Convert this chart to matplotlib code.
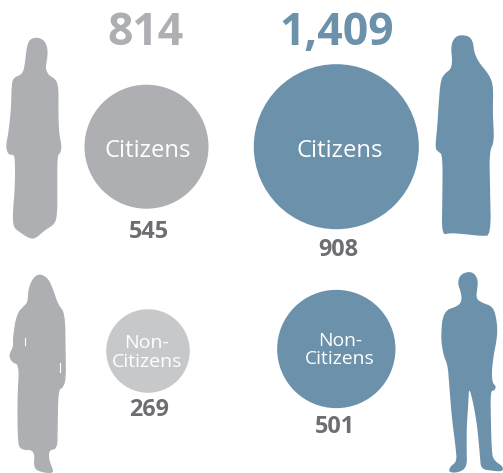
import matplotlib
matplotlib.use('Agg')
import matplotlib.pyplot as plt
from matplotlib.patches import Circle, Polygon
import numpy as np

plt.rcParams['font.family'] = ['Open Sans', 'DejaVu Sans']

totals = ['814', '1,409']
labels = ['Citizens', 'Citizens', 'Non-\nCitizens', 'Non-\nCitizens']
values = [545, 908, 269, 501]

GRAY = '#adafb2'
LIGHT = '#c7c8ca'
BLUE = '#6c91ab'
DARK = '#6d6e71'

# silhouettes, traced in 3x zoom pixels, with their offsets
woman1 = [(110,113),(122,115),(135,125),(141,140),(143,155),(142,172),(139,190),(137,205),(145,225),(168,238),(176,265),(175,330),(177,400),
          (185,436),(182,458),(172,466),(172,560),(172,640),(165,672),(135,690),(105,717),(85,714),(60,697),
          (40,682),(38,640),(45,560),(45,470),(38,464),(25,464),(17,440),(25,400),(33,330),(35,250),(42,232),
          (68,222),(75,190),(79,150),(85,125),(96,115)]
woman2 = [(637,105),(660,110),(670,130),(672,155),(685,185),(710,215),(725,240),(730,270),(728,340),(733,425),
          (718,455),(720,560),(723,706),(695,708),(640,702),(600,699),(575,705),(577,600),(578,465),(565,455),
          (555,445),(562,380),(566,310),(572,240),(585,220),(602,208),(607,185),(603,145),(608,122),(620,108)]
woman3 = [(120,71),(145,85),(160,120),(175,165),(195,188),(197,300),(198,390),(188,414),(175,420),(173,540),
          (172,597),(147,600),(147,630),(160,660),(157,670),(125,667),(100,655),(105,600),(60,600),(53,570),
          (52,440),(58,345),(35,337),(26,315),(40,290),(38,265),(50,190),(75,165),(83,155),(85,115),(100,82)]
man = [(653,65),(672,69),(684,90),(682,115),(678,145),(695,158),(730,170),(741,215),(742,260),(730,320),
       (725,370),(728,400),(738,408),(734,422),(722,422),(722,490),(725,600),(730,630),(760,650),(757,665),
       (725,662),(693,657),(690,620),(682,530),(670,460),(657,410),(655,460),(650,530),(650,600),(651,652),
       (625,668),(596,667),(600,650),(620,635),(618,600),(605,500),(597,395),(593,345),(580,315),(572,260),
       (580,183),(625,168),(636,150),(632,125),(623,100),(630,75)]


def person(ax, pts, dx, dy, color):
    p = np.array(pts, dtype=float) / 3 + [dx, dy]
    # round off the corners of the trace
    for k in range(2):
        q = np.roll(p, -1, axis=0)
        p = np.column_stack([0.75 * p + 0.25 * q, 0.25 * p + 0.75 * q]).reshape(-1, 2)
    ax.add_patch(Polygon(p, closed=True, fc=color, ec='none'))


fig = plt.figure(figsize=(5.03, 4.73), dpi=100)
ax = fig.add_axes([0, 0, 1, 1])
ax.set_xlim(0, 503)
ax.set_ylim(473, 0)
ax.axis('off')

person(ax, woman1, 0, 0, GRAY)
person(ax, woman2, 250, 0, BLUE)
person(ax, woman3, 0, 250, GRAY)
person(ax, man, 250, 250, BLUE)
ax.plot([25, 25], [338, 345], color='white', lw=0.8)
ax.plot([60, 60], [363, 372], color='white', lw=0.8)

# circles: size scale
cx = [146.5, 336.3, 148, 336.3]
cy = [146.7, 146.7, 351, 349]
colors = [GRAY, BLUE, LIGHT, BLUE]
for i in range(4):
    ax.add_patch(Circle((cx[i], cy[i]), 1.82 * values[i] ** 0.56, fc=colors[i], ec='none'))

ax.text(146, 45, totals[0], color=GRAY, size=32, weight='bold', ha='center', va='baseline')
ax.text(337, 45, totals[1], color=BLUE, size=32, weight='bold', ha='center', va='baseline')

num_x = [148.7, 338, 148.7, 335]
num_y = [238, 256, 415.7, 432.7]
for i in range(4):
    ax.text(num_x[i], num_y[i], str(values[i]), color=DARK, size=16.8, weight='bold', ha='center', va='baseline')

ax.text(147.5, 156.7, labels[0], color='white', size=17.2, ha='center', va='baseline')
ax.text(340, 156.7, labels[1], color='white', size=17.2, ha='center', va='baseline')
for x, y1, y2, size, lab in [(147, 348, 366.7, 14, labels[2]), (340, 346, 364, 13.9, labels[3])]:
    a, b = lab.split('\n')
    ax.text(x, y1, a, color='white', size=size, ha='center', va='baseline')
    ax.text(x, y2, b, color='white', size=size, ha='center', va='baseline')

plt.savefig('out.png', dpi=100)
